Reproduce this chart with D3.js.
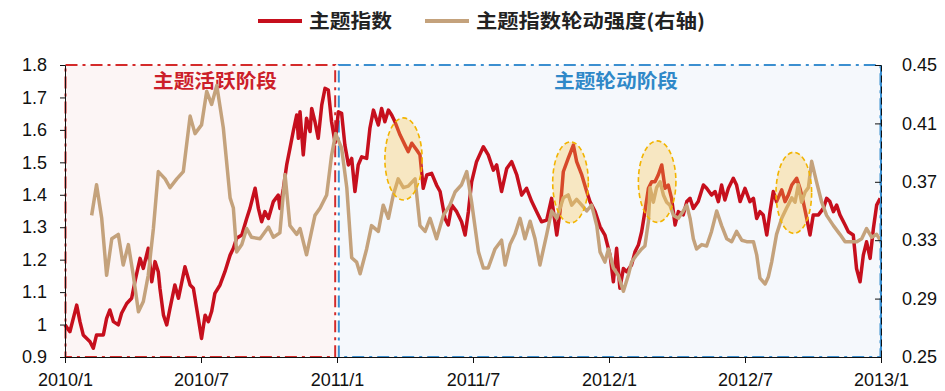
<!DOCTYPE html>
<html><head><meta charset="utf-8">
<script src="https://cdn.jsdelivr.net/npm/d3@7"></script>
<style>html,body{margin:0;padding:0;background:#fff;}svg{display:block;}</style>
</head><body>
<svg id="chart" width="945" height="391"></svg>
<script>
// ---- data ----
const seriesNames = ["主题指数", "主题指数轮动强度(右轴)"];
const xTickValues = [2010, 2010.5, 2011, 2011.5, 2012, 2012.5, 2013];
const xTickLabels = ["2010/1", "2010/7", "2011/1", "2011/7", "2012/1", "2012/7", "2013/1"];
const leftTicks = [0.9, 1.0, 1.1, 1.2, 1.3, 1.4, 1.5, 1.6, 1.7, 1.8];
const leftTickLabels = ["0.9", "1", "1.1", "1.2", "1.3", "1.4", "1.5", "1.6", "1.7", "1.8"];
const rightTicks = [0.25, 0.29, 0.33, 0.37, 0.41, 0.45];
const rightTickLabels = ["0.25", "0.29", "0.33", "0.37", "0.41", "0.45"];
const phaseNames = ["主题活跃阶段", "主题轮动阶段"];
const phaseStart = [2010, 2011];
const phaseEnd = [2011, 2013];
const hotspotStart = [2011.176, 2011.793, 2012.108, 2012.614];
const hotspotEnd = [2011.313, 2011.924, 2012.246, 2012.745];
const hotspotLow = [1.384, 1.313, 1.315, 1.281];
const hotspotHigh = [1.637, 1.563, 1.566, 1.531];

// [decimal year, value]
const themeIndex = [[2010.000,0.999],[2010.018,0.978],[2010.043,1.060],[2010.055,1.009],[2010.067,0.968],[2010.092,0.947],[2010.104,0.927],[2010.116,0.968],[2010.141,0.968],[2010.153,1.019],[2010.165,1.045],[2010.178,1.009],[2010.196,0.999],[2010.208,1.035],[2010.227,1.065],[2010.245,1.081],[2010.257,1.132],[2010.276,1.204],[2010.288,1.173],[2010.306,1.235],[2010.319,1.132],[2010.331,1.194],[2010.343,1.163],[2010.349,1.112],[2010.362,1.029],[2010.374,0.999],[2010.386,1.050],[2010.404,1.122],[2010.417,1.081],[2010.441,1.178],[2010.460,1.122],[2010.472,1.112],[2010.484,1.050],[2010.502,0.957],[2010.515,1.029],[2010.527,1.009],[2010.539,1.040],[2010.551,1.096],[2010.570,1.122],[2010.588,1.163],[2010.607,1.214],[2010.619,1.235],[2010.631,1.266],[2010.650,1.276],[2010.668,1.327],[2010.680,1.358],[2010.699,1.420],[2010.711,1.358],[2010.723,1.317],[2010.735,1.348],[2010.748,1.327],[2010.766,1.379],[2010.784,1.399],[2010.790,1.358],[2010.803,1.420],[2010.815,1.492],[2010.827,1.543],[2010.839,1.595],[2010.852,1.646],[2010.858,1.574],[2010.864,1.656],[2010.876,1.523],[2010.888,1.636],[2010.901,1.595],[2010.907,1.666],[2010.919,1.625],[2010.931,1.574],[2010.944,1.677],[2010.956,1.728],[2010.968,1.723],[2010.980,1.625],[2010.993,1.560],[2011.005,1.656],[2011.017,1.651],[2011.029,1.553],[2011.042,1.492],[2011.054,1.512],[2011.066,1.410],[2011.078,1.492],[2011.091,1.517],[2011.109,1.512],[2011.121,1.605],[2011.134,1.661],[2011.152,1.615],[2011.164,1.666],[2011.176,1.625],[2011.189,1.661],[2011.201,1.646],[2011.213,1.625],[2011.232,1.584],[2011.250,1.553],[2011.262,1.533],[2011.275,1.559],[2011.293,1.538],[2011.305,1.523],[2011.317,1.420],[2011.330,1.461],[2011.348,1.466],[2011.366,1.430],[2011.379,1.410],[2011.397,1.327],[2011.409,1.307],[2011.422,1.368],[2011.440,1.348],[2011.458,1.317],[2011.471,1.276],[2011.483,1.348],[2011.495,1.440],[2011.513,1.502],[2011.538,1.548],[2011.556,1.523],[2011.575,1.476],[2011.587,1.492],[2011.605,1.410],[2011.624,1.481],[2011.642,1.502],[2011.661,1.461],[2011.679,1.399],[2011.697,1.420],[2011.716,1.379],[2011.734,1.348],[2011.752,1.317],[2011.771,1.322],[2011.789,1.389],[2011.808,1.276],[2011.820,1.348],[2011.832,1.471],[2011.850,1.512],[2011.869,1.553],[2011.881,1.502],[2011.900,1.461],[2011.918,1.410],[2011.930,1.379],[2011.949,1.348],[2011.967,1.302],[2011.985,1.276],[2012.004,1.214],[2012.016,1.132],[2012.028,1.235],[2012.040,1.112],[2012.053,1.173],[2012.065,1.163],[2012.083,1.184],[2012.096,1.225],[2012.108,1.245],[2012.120,1.286],[2012.132,1.348],[2012.145,1.420],[2012.157,1.440],[2012.169,1.440],[2012.181,1.461],[2012.194,1.492],[2012.206,1.420],[2012.218,1.430],[2012.230,1.389],[2012.243,1.307],[2012.255,1.348],[2012.273,1.338],[2012.286,1.379],[2012.298,1.389],[2012.310,1.358],[2012.328,1.379],[2012.347,1.430],[2012.359,1.420],[2012.377,1.399],[2012.390,1.410],[2012.402,1.379],[2012.414,1.430],[2012.426,1.384],[2012.439,1.420],[2012.457,1.451],[2012.469,1.430],[2012.482,1.379],[2012.500,1.420],[2012.518,1.379],[2012.531,1.389],[2012.543,1.327],[2012.555,1.348],[2012.567,1.338],[2012.580,1.276],[2012.592,1.348],[2012.604,1.410],[2012.616,1.379],[2012.635,1.415],[2012.647,1.379],[2012.659,1.399],[2012.672,1.430],[2012.690,1.451],[2012.702,1.420],[2012.714,1.379],[2012.727,1.327],[2012.739,1.276],[2012.751,1.338],[2012.770,1.338],[2012.788,1.358],[2012.800,1.389],[2012.812,1.379],[2012.825,1.348],[2012.837,1.368],[2012.849,1.338],[2012.868,1.307],[2012.880,1.286],[2012.898,1.276],[2012.910,1.173],[2012.923,1.132],[2012.935,1.214],[2012.947,1.255],[2012.960,1.204],[2012.972,1.296],[2012.984,1.368],[2012.997,1.389]];

const rotationStrength = [[2010.098,0.347],[2010.116,0.368],[2010.135,0.345],[2010.153,0.306],[2010.172,0.331],[2010.196,0.334],[2010.214,0.313],[2010.233,0.327],[2010.251,0.306],[2010.270,0.281],[2010.288,0.288],[2010.306,0.306],[2010.325,0.338],[2010.343,0.377],[2010.368,0.372],[2010.386,0.366],[2010.411,0.372],[2010.435,0.377],[2010.460,0.415],[2010.478,0.403],[2010.502,0.409],[2010.521,0.432],[2010.539,0.423],[2010.558,0.436],[2010.582,0.407],[2010.607,0.359],[2010.619,0.352],[2010.631,0.322],[2010.650,0.327],[2010.668,0.338],[2010.686,0.332],[2010.717,0.331],[2010.748,0.339],[2010.766,0.332],[2010.790,0.335],[2010.809,0.375],[2010.827,0.340],[2010.852,0.334],[2010.864,0.338],[2010.888,0.320],[2010.919,0.347],[2010.938,0.352],[2010.962,0.361],[2010.980,0.388],[2010.995,0.403],[2011.017,0.393],[2011.036,0.366],[2011.054,0.318],[2011.072,0.315],[2011.085,0.307],[2011.109,0.324],[2011.127,0.340],[2011.152,0.336],[2011.170,0.354],[2011.189,0.345],[2011.207,0.361],[2011.225,0.372],[2011.244,0.366],[2011.262,0.367],[2011.287,0.372],[2011.305,0.340],[2011.324,0.336],[2011.342,0.345],[2011.366,0.331],[2011.391,0.347],[2011.415,0.354],[2011.434,0.363],[2011.458,0.368],[2011.477,0.377],[2011.495,0.356],[2011.520,0.322],[2011.538,0.311],[2011.556,0.311],[2011.581,0.324],[2011.605,0.330],[2011.618,0.313],[2011.636,0.327],[2011.654,0.334],[2011.673,0.345],[2011.691,0.331],[2011.710,0.343],[2011.728,0.331],[2011.746,0.313],[2011.771,0.334],[2011.789,0.350],[2011.808,0.345],[2011.832,0.359],[2011.850,0.361],[2011.863,0.354],[2011.881,0.358],[2011.900,0.354],[2011.918,0.350],[2011.936,0.354],[2011.955,0.340],[2011.967,0.322],[2011.985,0.315],[2011.998,0.324],[2012.016,0.311],[2012.034,0.306],[2012.053,0.295],[2012.071,0.306],[2012.083,0.315],[2012.102,0.320],[2012.120,0.324],[2012.132,0.326],[2012.145,0.343],[2012.151,0.366],[2012.163,0.356],[2012.175,0.366],[2012.188,0.370],[2012.200,0.361],[2012.212,0.356],[2012.224,0.354],[2012.237,0.347],[2012.255,0.345],[2012.273,0.350],[2012.286,0.354],[2012.298,0.345],[2012.310,0.331],[2012.322,0.324],[2012.341,0.327],[2012.359,0.326],[2012.377,0.336],[2012.396,0.350],[2012.414,0.340],[2012.433,0.331],[2012.451,0.329],[2012.469,0.336],[2012.488,0.330],[2012.506,0.329],[2012.531,0.329],[2012.543,0.320],[2012.555,0.304],[2012.574,0.300],[2012.586,0.305],[2012.598,0.315],[2012.616,0.334],[2012.635,0.345],[2012.653,0.352],[2012.672,0.359],[2012.684,0.356],[2012.696,0.368],[2012.708,0.356],[2012.721,0.363],[2012.733,0.366],[2012.745,0.384],[2012.763,0.370],[2012.782,0.356],[2012.800,0.347],[2012.825,0.340],[2012.849,0.334],[2012.868,0.329],[2012.892,0.329],[2012.911,0.329],[2012.929,0.331],[2012.947,0.338],[2012.966,0.332],[2012.984,0.334],[2012.997,0.330]];

// ---- styles ----
const plot = {left: 65, right: 881, top: 65, bottom: 357};
const redColor = "#c60f1d", tanColor = "#c4a27c";
const phaseStroke = ["#d42a2a", "#3b8fd0"];
const phaseFill = ["#fcf5f5", "#f5f8fc"];
const phaseText = ["#cc1f2a", "#2f88c8"];
const phaseLabelShift = [14, 7];
const numFont = "'Liberation Sans', Arial, sans-serif";
const cjkFont = "'Noto Sans CJK SC', sans-serif";

const svg = d3.select("#chart");
const x = d3.scaleLinear().domain([2010, 2013]).range([plot.left, plot.right]);
const yL = d3.scaleLinear().domain([0.9, 1.8]).range([plot.bottom, plot.top]);
const yR = d3.scaleLinear().domain([0.25, 0.45]).range([plot.bottom, plot.top]);

// phase regions
const phases = phaseNames.map((n, i) => ({name: n, s: phaseStart[i], e: phaseEnd[i], i}));
const gPh = svg.append("g");
phases.forEach(p => {
  const x0 = x(p.s) + (p.i === 0 ? 0.5 : 1.8);
  const x1 = x(p.e) - (p.i === 0 ? 1.8 : 0.5);
  gPh.append("rect")
    .attr("x", x0).attr("y", yL(1.8)).attr("width", x1 - x0).attr("height", yL(0.9) - yL(1.8))
    .attr("fill", phaseFill[p.i]).attr("stroke", phaseStroke[p.i]).attr("stroke-width", 2)
    .attr("stroke-dasharray", "12,5,3,5");
  gPh.append("text")
    .attr("x", (x(p.s) + x(p.e)) / 2 + phaseLabelShift[p.i]).attr("y", 88)
    .attr("text-anchor", "middle").attr("font-family", cjkFont).attr("font-weight", 700)
    .attr("font-size", 19).attr("fill", phaseText[p.i])
    .attr("textLength", 124).attr("lengthAdjust", "spacingAndGlyphs")
    .text(p.name);
});

// lines
const lineL = d3.line().x(d => x(d[0])).y(d => yL(d[1]));
const lineR = d3.line().x(d => x(d[0])).y(d => yR(d[1]));
svg.append("path").datum(themeIndex).attr("d", lineL)
  .attr("fill", "none").attr("stroke", redColor).attr("stroke-width", 3.5).attr("stroke-linejoin", "round");
svg.append("path").datum(rotationStrength).attr("d", lineR)
  .attr("fill", "none").attr("stroke", tanColor).attr("stroke-width", 3.5).attr("stroke-linejoin", "round");

// hotspot ellipses
hotspotStart.forEach((s, i) => {
  const cx = (x(s) + x(hotspotEnd[i])) / 2, cy = (yL(hotspotLow[i]) + yL(hotspotHigh[i])) / 2;
  svg.append("ellipse")
    .attr("cx", cx).attr("cy", cy)
    .attr("rx", (x(hotspotEnd[i]) - x(s)) / 2).attr("ry", (yL(hotspotLow[i]) - yL(hotspotHigh[i])) / 2)
    .attr("fill", "rgba(252,196,70,0.32)").attr("stroke", "#f2b400").attr("stroke-width", 1.6)
    .attr("stroke-dasharray", "5,3");
});

// axes
function styleAxis(g) {
  g.selectAll("text").attr("font-family", numFont).attr("font-size", 18).attr("fill", "#111");
  g.selectAll("line").attr("stroke", "#111");
  g.select(".domain").attr("stroke", "#111");
}
const axL = d3.axisLeft(yL).tickValues(leftTicks).tickFormat((d, i) => leftTickLabels[i]).tickSizeOuter(0).tickSize(5).tickPadding(13);
svg.append("g").attr("transform", `translate(${plot.left},0)`).call(axL).call(styleAxis);

svg.append("line").attr("x1", plot.right).attr("x2", plot.right).attr("y1", plot.top).attr("y2", plot.bottom)
  .attr("stroke", phaseStroke[1]).attr("stroke-width", 2);
const axR = d3.axisRight(yR).tickValues(rightTicks).tickFormat((d, i) => rightTickLabels[i]).tickSizeOuter(0).tickSizeInner(-6).tickPadding(21);
const gR = svg.append("g").attr("transform", `translate(${plot.right},0)`).call(axR).call(styleAxis);
gR.select(".domain").attr("stroke-dasharray", "7,4");

const axB = d3.axisBottom(x).tickValues(xTickValues).tickFormat((d, i) => xTickLabels[i]).tickSizeOuter(0).tickSize(6).tickPadding(10);
svg.append("g").attr("transform", `translate(0,${plot.bottom})`).call(axB).call(styleAxis);

// legend
const lg = svg.append("g");
const legendItems = [
  {name: seriesNames[0], color: redColor, lx: 258, tx: 309, tl: 83},
  {name: seriesNames[1], color: tanColor, lx: 425, tx: 476, tl: 229}
];
legendItems.forEach(it => {
  lg.append("line").attr("x1", it.lx).attr("x2", it.lx + 44).attr("y1", 21).attr("y2", 21)
    .attr("stroke", it.color).attr("stroke-width", 4);
  lg.append("text").attr("x", it.tx).attr("y", 28).attr("font-family", cjkFont).attr("font-weight", 700)
    .attr("font-size", 19).attr("fill", "#222")
    .attr("textLength", it.tl).attr("lengthAdjust", "spacingAndGlyphs").text(it.name);
});
</script>
</body></html>
